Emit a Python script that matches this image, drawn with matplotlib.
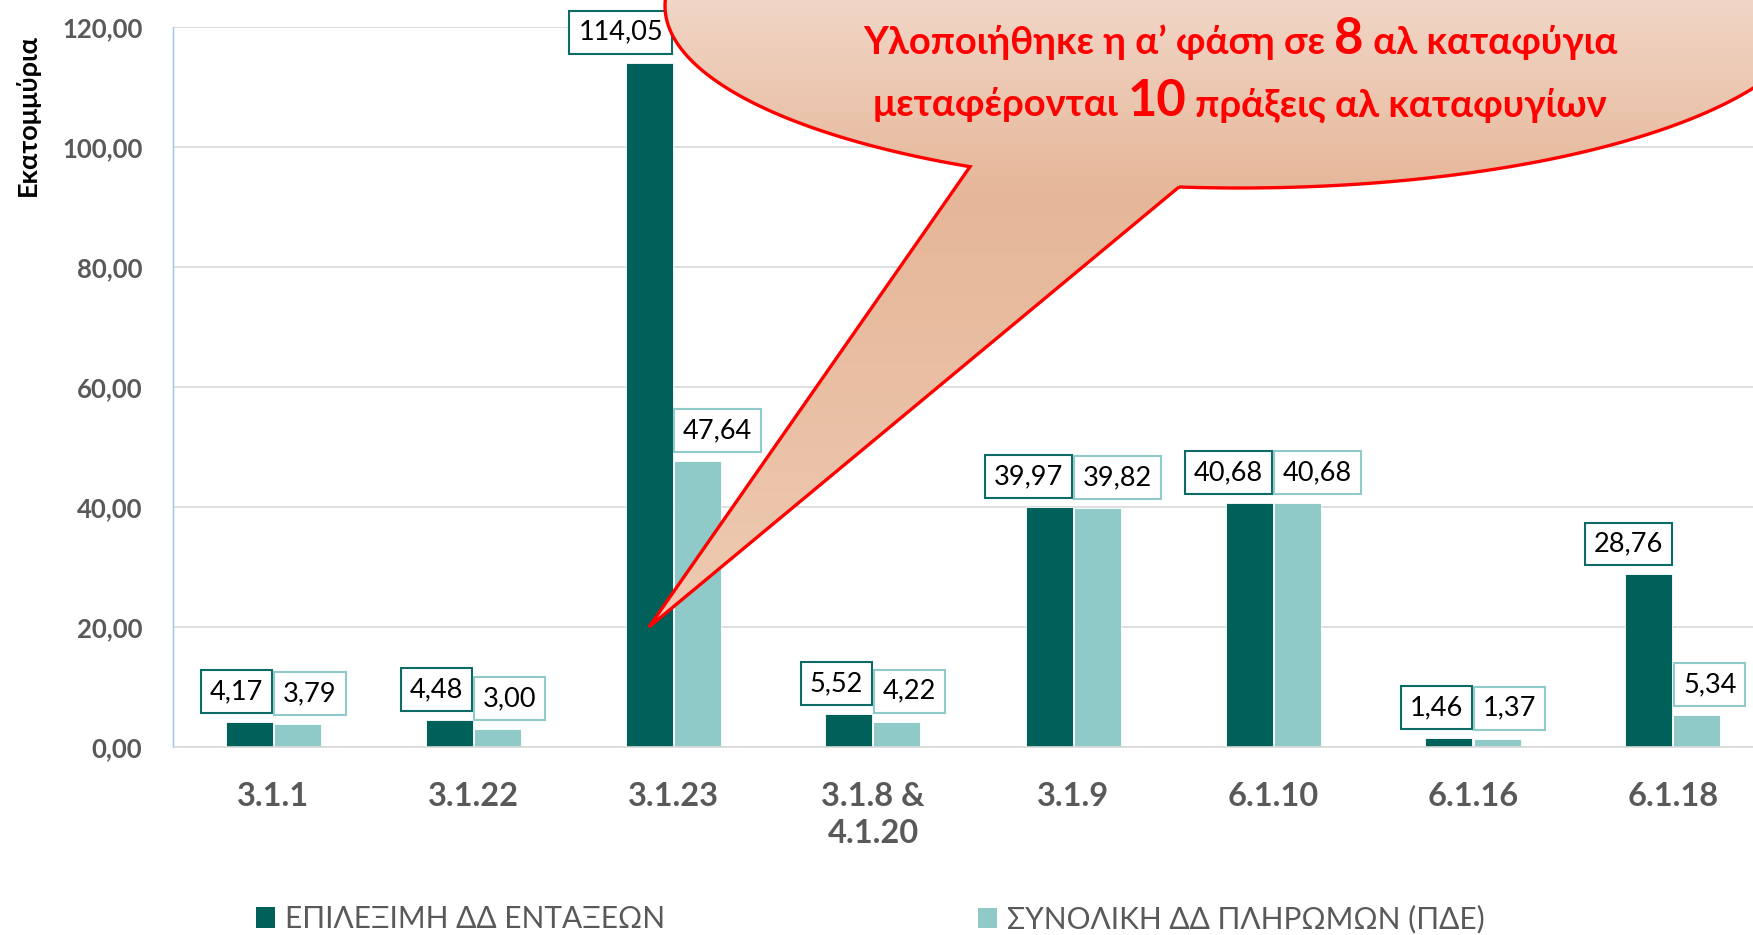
import numpy as np
import matplotlib
matplotlib.use('Agg')
import matplotlib.pyplot as plt
from matplotlib.patches import Patch, Polygon
from matplotlib.colors import LinearSegmentedColormap
from matplotlib.offsetbox import TextArea, HPacker, AnnotationBbox

plt.rcParams['font.family'] = ['Lato', 'DejaVu Sans']

categories = ['3.1.1', '3.1.22', '3.1.23', '3.1.8 &\n4.1.20', '3.1.9',
              '6.1.10', '6.1.16', '6.1.18']
eligible = [4.17, 4.48, 114.05, 5.52, 39.97, 40.68, 1.46, 28.76]
payments = [3.79, 3.00, 47.64, 4.22, 39.82, 40.68, 1.37, 5.34]
series_names = ['ΕΠΙΛΕΞΙΜΗ ΔΔ ΕΝΤΑΞΕΩΝ', 'ΣΥΝΟΛΙΚΗ ΔΔ ΠΛΗΡΩΜΩΝ (ΠΔΕ)']
y_ticks = [0, 20, 40, 60, 80, 100, 120]
y_label = 'Εκατομμύρια'
callout_line1 = ['Υλοποιήθηκε η α’ φάση σε ', '8', ' αλ καταφύγια']
callout_line2 = ['μεταφέρονται ', '10', ' πράξεις αλ καταφυγίων']

DARK = '#00615B'
LIGHT = '#8FC9C8'
GREY = '#595959'
W, H = 1753, 935


def fmt(v):
    return f'{v:.2f}'.replace('.', ',')


fig = plt.figure(figsize=(W / 100, H / 100), dpi=100)
ax = fig.add_axes([173 / W, (H - 747) / H, 1 - 173 / W, 720 / H])

x = np.arange(len(categories))
bw = 0.235
off = 0.12
ax.bar(x - off, eligible, bw, color=DARK, edgecolor='white', linewidth=0.6, zorder=2)
ax.bar(x + off, payments, bw, color=LIGHT, edgecolor='white', linewidth=0.6, zorder=2)

# value boxes: dark ones end at the category centre, light ones start there
for i, (a, b) in enumerate(zip(eligible, payments)):
    ax.annotate(fmt(a), (x[i], a), xytext=(-10, 18), textcoords='offset pixels',
                ha='right', va='bottom', fontsize=19.5, color='black', zorder=5,
                bbox=dict(boxstyle='square,pad=0.33', fc='white', ec='#0D6B65', lw=1.5))
    ax.annotate(fmt(b), (x[i], b), xytext=(10, 18), textcoords='offset pixels',
                ha='left', va='bottom', fontsize=19.5, color='black', zorder=5,
                bbox=dict(boxstyle='square,pad=0.33', fc='white', ec='#8FCBCA', lw=1.5))

ax.set_xlim(-0.5, 7.4)
ax.set_ylim(0, 120)
ax.set_yticks(y_ticks)
ax.set_yticklabels([fmt(t) for t in y_ticks], fontsize=18.5, fontweight='bold', color=GREY)
ax.set_xticks(x)
ax.set_xticklabels(categories, fontsize=23.5, fontweight='bold', color=GREY, linespacing=1.35)
ax.tick_params(axis='y', length=0, pad=22)
ax.tick_params(axis='x', length=0, pad=25)
ax.grid(axis='y', color='#D9D9D9', linewidth=1.2, zorder=0)
ax.set_axisbelow(True)
for s in ['top', 'right']:
    ax.spines[s].set_visible(False)
ax.spines['bottom'].set_color('#D9D9D9')
ax.spines['bottom'].set_linewidth(1.2)
ax.spines['left'].set_color('#9DC3E6')
ax.spines['left'].set_linewidth(1.0)

fig.text(27 / W, (H - 115) / H, y_label, rotation=90, ha='center', va='center',
         fontsize=19.5, fontweight='bold', color='black')

# legend, two separate entries far apart
for name, col, xpos in zip(series_names, [DARK, LIGHT], [256, 978]):
    fig.legend(handles=[Patch(facecolor=col, edgecolor='none')], labels=[name],
               loc='center left', bbox_to_anchor=(xpos / W, (H - 919) / H),
               frameon=False, fontsize=21.5, labelcolor=GREY, borderpad=0,
               borderaxespad=0, handlelength=0.63, handleheight=0.67,
               handletextpad=0.33)

# callout balloon in pixel space (y down)
ov = fig.add_axes([0, 0, 1, 1], zorder=10)
ov.set_xlim(0, W)
ov.set_ylim(H, 0)
ov.axis('off')

cx, cy, ea, eb = 1240, 6, 575, 182
base1 = np.degrees(np.arccos((970 - cx) / ea))
base2 = np.degrees(np.arccos((1179 - cx) / ea))
th = np.radians(np.linspace(base2, base1 - 360, 400))
arc = np.column_stack([cx + ea * np.cos(th), cy + eb * np.sin(th)])
fig.canvas.draw()
tip_disp = ax.transData.transform((x[2] - off, 20))
tip = (tip_disp[0], H - tip_disp[1])
pts = np.vstack([arc, [tip], arc[:1]])

balloon = Polygon(pts, closed=True, fc='none', ec='#FF0000', lw=2.4, joinstyle='miter', zorder=3)
ov.add_patch(balloon)
grad_cmap = LinearSegmentedColormap.from_list(
    'peach', [(0.0, '#F8E8E0'), (0.22, '#F1D6C6'), (0.46, '#E6B698'), (1.0, '#EECBB3')])
grad = np.linspace(0, 1, 256).reshape(-1, 1)
img = ov.imshow(grad, cmap=grad_cmap, aspect='auto', extent=[600, 1800, 640, -180],
                zorder=2, interpolation='bilinear')
clip = Polygon(pts, closed=True, transform=ov.transData)
img.set_clip_path(clip)
ov.set_xlim(0, W)
ov.set_ylim(H, 0)


def line_box(parts):
    kids = []
    for j, p in enumerate(parts):
        size = 36.5 if j == 1 else 27.5
        kids.append(TextArea(p, textprops=dict(fontsize=size, fontweight='bold',
                                               color='#FF0000')))
    return HPacker(children=kids, align='baseline', pad=0, sep=0)


for parts, yc in [(callout_line1, 40), (callout_line2, 102)]:
    ab = AnnotationBbox(line_box(parts), (1240, yc), xycoords='data', frameon=False,
                        box_alignment=(0.5, 0.5), pad=0)
    ab.set_zorder(5)
    ov.add_artist(ab)

fig.savefig('out.png', dpi=100)
